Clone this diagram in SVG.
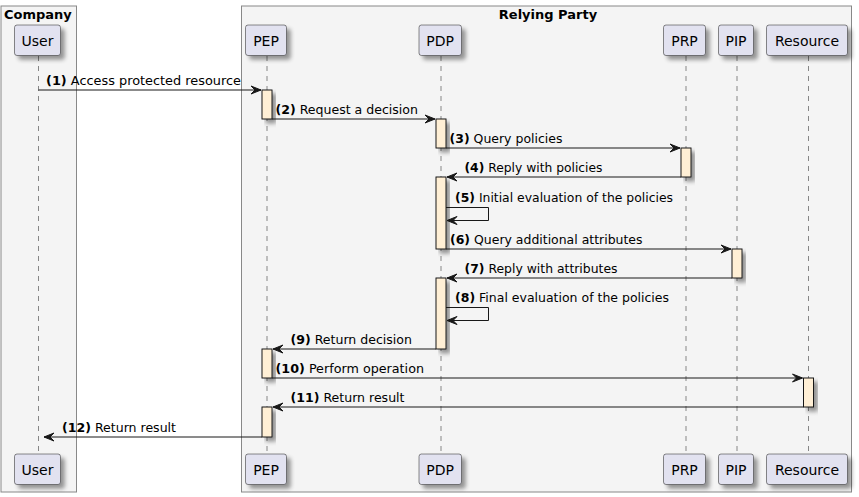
<svg xmlns="http://www.w3.org/2000/svg" width="859" height="497" viewBox="0 0 859 497">
<defs>
<filter id="sh" x="-20%" y="-20%" width="160%" height="160%">
<feGaussianBlur in="SourceAlpha" stdDeviation="2"/>
<feOffset dx="4" dy="4" result="b"/>
<feComponentTransfer><feFuncA type="linear" slope="0.4"/></feComponentTransfer>
<feMerge><feMergeNode/><feMergeNode in="SourceGraphic"/></feMerge>
</filter>
</defs>
<style>
text{font-family:"DejaVu Sans","Liberation Sans",sans-serif;fill:#000}
.box{fill:#F4F4F4;stroke:#888;stroke-width:1}
.btitle{font-size:13px;font-weight:bold}
.part{fill:#E2E2F0;stroke:#181818;stroke-width:0.5}
.pname{font-size:14px;text-anchor:middle}
.life{stroke:#181818;stroke-width:0.5;stroke-dasharray:5,5;fill:none}
.act{fill:#FFEFD5;stroke:#181818;stroke-width:1}
.msg{stroke:#181818;stroke-width:1;fill:none}
.ah{fill:#181818;stroke:#181818;stroke-width:1}
.lbl{font-size:13px}
.n{font-weight:bold}
</style>
<g id="box-company">
<rect class="box" x="1" y="6" width="75.5" height="486"/>
<text class="btitle" x="4" y="18.5">Company</text>
</g>
<g id="box-relying-party">
<rect class="box" x="241.5" y="6" width="610" height="486"/>
<text class="btitle" x="548" y="18.5" text-anchor="middle">Relying Party</text>
</g>
<g id="lifelines">
<line class="life" x1="38.5" y1="56" x2="38.5" y2="454"/>
<line class="life" x1="267" y1="56" x2="267" y2="454"/>
<line class="life" x1="441" y1="56" x2="441" y2="454"/>
<line class="life" x1="686" y1="56" x2="686" y2="454"/>
<line class="life" x1="737" y1="56" x2="737" y2="454"/>
<line class="life" x1="808.5" y1="56" x2="808.5" y2="454"/>
</g>
<g id="User">
<rect class="part" filter="url(#sh)" x="14.5" y="25" width="46" height="30.5" rx="2.5"/>
<text class="pname" x="37.5" y="45.5">User</text>
<rect class="part" filter="url(#sh)" x="14.5" y="454" width="46" height="30.5" rx="2.5"/>
<text class="pname" x="37.5" y="474.5">User</text>
</g>
<g id="PEP">
<rect class="part" filter="url(#sh)" x="245.5" y="25" width="41" height="30.5" rx="2.5"/>
<text class="pname" x="266" y="45.5">PEP</text>
<rect class="part" filter="url(#sh)" x="245.5" y="454" width="41" height="30.5" rx="2.5"/>
<text class="pname" x="266" y="474.5">PEP</text>
</g>
<g id="PDP">
<rect class="part" filter="url(#sh)" x="419" y="25" width="42.5" height="30.5" rx="2.5"/>
<text class="pname" x="440.2" y="45.5">PDP</text>
<rect class="part" filter="url(#sh)" x="419" y="454" width="42.5" height="30.5" rx="2.5"/>
<text class="pname" x="440.2" y="474.5">PDP</text>
</g>
<g id="PRP">
<rect class="part" filter="url(#sh)" x="663.5" y="25" width="42" height="30.5" rx="2.5"/>
<text class="pname" x="684.5" y="45.5">PRP</text>
<rect class="part" filter="url(#sh)" x="663.5" y="454" width="42" height="30.5" rx="2.5"/>
<text class="pname" x="684.5" y="474.5">PRP</text>
</g>
<g id="PIP">
<rect class="part" filter="url(#sh)" x="718.5" y="25" width="35" height="30.5" rx="2.5"/>
<text class="pname" x="736" y="45.5">PIP</text>
<rect class="part" filter="url(#sh)" x="718.5" y="454" width="35" height="30.5" rx="2.5"/>
<text class="pname" x="736" y="474.5">PIP</text>
</g>
<g id="Resource">
<rect class="part" filter="url(#sh)" x="766.5" y="25" width="81" height="30.5" rx="2.5"/>
<text class="pname" x="807" y="45.5">Resource</text>
<rect class="part" filter="url(#sh)" x="766.5" y="454" width="81" height="30.5" rx="2.5"/>
<text class="pname" x="807" y="474.5">Resource</text>
</g>
<g id="activations">
<rect class="act" filter="url(#sh)" x="262" y="90" width="10" height="29"/>
<rect class="act" filter="url(#sh)" x="436" y="119" width="10" height="29"/>
<rect class="act" filter="url(#sh)" x="681" y="148" width="10" height="29"/>
<rect class="act" filter="url(#sh)" x="436" y="177" width="10" height="72"/>
<rect class="act" filter="url(#sh)" x="732" y="249" width="10" height="29"/>
<rect class="act" filter="url(#sh)" x="436" y="278" width="10" height="71"/>
<rect class="act" filter="url(#sh)" x="262" y="349" width="10" height="29"/>
<rect class="act" filter="url(#sh)" x="803.5" y="378" width="10" height="29"/>
<rect class="act" filter="url(#sh)" x="262" y="407" width="10" height="30"/>
</g>
<g id="connectors">
<line class="msg" x1="38.5" y1="90" x2="261" y2="90"/>
<polygon class="ah" points="251,86 261,90 251,94 255,90"/>
<line class="msg" x1="272" y1="119" x2="435" y2="119"/>
<polygon class="ah" points="425,115 435,119 425,123 429,119"/>
<line class="msg" x1="446" y1="148" x2="680" y2="148"/>
<polygon class="ah" points="670,144 680,148 670,152 674,148"/>
<line class="msg" x1="447" y1="177" x2="681" y2="177"/>
<polygon class="ah" points="457,173 447,177 457,181 453,177"/>
<polyline class="msg" points="446,207.5 488.5,207.5 488.5,220.5 447,220.5"/>
<polygon class="ah" points="457,216.5 447,220.5 457,224.5 453,220.5"/>
<line class="msg" x1="446" y1="249" x2="731" y2="249"/>
<polygon class="ah" points="721,245 731,249 721,253 725,249"/>
<line class="msg" x1="447" y1="278" x2="732" y2="278"/>
<polygon class="ah" points="457,274 447,278 457,282 453,278"/>
<polyline class="msg" points="446,307.5 488.5,307.5 488.5,320.5 447,320.5"/>
<polygon class="ah" points="457,316.5 447,320.5 457,324.5 453,320.5"/>
<line class="msg" x1="273" y1="349" x2="436" y2="349"/>
<polygon class="ah" points="283,345 273,349 283,353 279,349"/>
<line class="msg" x1="272" y1="378" x2="802.5" y2="378"/>
<polygon class="ah" points="792.5,374 802.5,378 792.5,382 796.5,378"/>
<line class="msg" x1="273" y1="407" x2="803.5" y2="407"/>
<polygon class="ah" points="283,403 273,407 283,411 279,407"/>
<line class="msg" x1="44" y1="437" x2="262" y2="437"/>
<polygon class="ah" points="54,433 44,437 54,441 50,437"/>
</g>
<g id="labels">
<text class="lbl" x="46" y="84.5" textLength="195" lengthAdjust="spacingAndGlyphs"><tspan class="n">(1)</tspan> Access protected resource</text>
<text class="lbl" x="275.5" y="114" textLength="142.5" lengthAdjust="spacingAndGlyphs"><tspan class="n">(2)</tspan> Request a decision</text>
<text class="lbl" x="449.5" y="143" textLength="113" lengthAdjust="spacingAndGlyphs"><tspan class="n">(3)</tspan> Query policies</text>
<text class="lbl" x="464.5" y="172" textLength="138" lengthAdjust="spacingAndGlyphs"><tspan class="n">(4)</tspan> Reply with policies</text>
<text class="lbl" x="455" y="202" textLength="218" lengthAdjust="spacingAndGlyphs"><tspan class="n">(5)</tspan> Initial evaluation of the policies</text>
<text class="lbl" x="450" y="244" textLength="192.5" lengthAdjust="spacingAndGlyphs"><tspan class="n">(6)</tspan> Query additional attributes</text>
<text class="lbl" x="464.5" y="273" textLength="153" lengthAdjust="spacingAndGlyphs"><tspan class="n">(7)</tspan> Reply with attributes</text>
<text class="lbl" x="455" y="302" textLength="214" lengthAdjust="spacingAndGlyphs"><tspan class="n">(8)</tspan> Final evaluation of the policies</text>
<text class="lbl" x="290.5" y="344" textLength="121.5" lengthAdjust="spacingAndGlyphs"><tspan class="n">(9)</tspan> Return decision</text>
<text class="lbl" x="275.5" y="373" textLength="148.5" lengthAdjust="spacingAndGlyphs"><tspan class="n">(10)</tspan> Perform operation</text>
<text class="lbl" x="290.5" y="402" textLength="114" lengthAdjust="spacingAndGlyphs"><tspan class="n">(11)</tspan> Return result</text>
<text class="lbl" x="62" y="432" textLength="114" lengthAdjust="spacingAndGlyphs"><tspan class="n">(12)</tspan> Return result</text>
</g>
</svg>
